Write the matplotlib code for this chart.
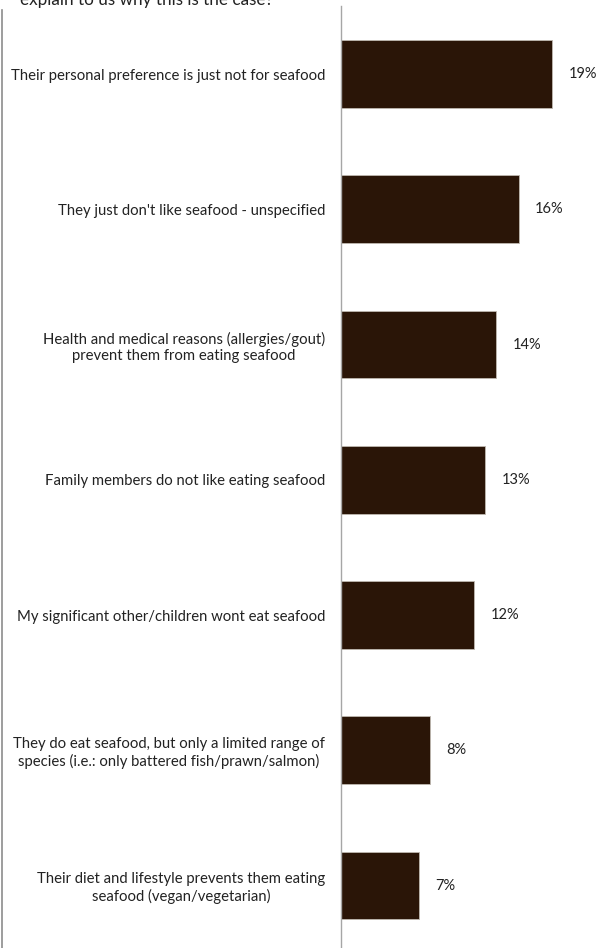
import matplotlib.pyplot as plt
import numpy as np

# reasons given, top to bottom, with share of respondents (%)
reasons = [
    "Their personal preference is just not for seafood",
    "They just don't like seafood - unspecified",
    "Health and medical reasons (allergies/gout)\nprevent them from eating seafood",
    "Family members do not like eating seafood",
    "My significant other/children wont eat seafood",
    "They do eat seafood, but only a limited range of\nspecies (i.e.: only battered fish/prawn/salmon)",
    "Their diet and lifestyle prevents them eating\nseafood (vegan/vegetarian)",
]
shares = [19, 16, 14, 13, 12, 8, 7]

plt.rcParams['font.family'] = ['Lato', 'DejaVu Sans']

W, H = 598, 948
fig = plt.figure(figsize=(W / 100, H / 100), dpi=100)

# plot area: value axis sits at x=341px, categories 135px apart
ax_left = 341 / W
ax_top = 1 - 6.4 / H
ax_h = 7 * 135.25 / H
ax = fig.add_axes([ax_left, ax_top - ax_h, 1 - ax_left, ax_h])

y = np.arange(len(reasons))
ax.barh(y, shares, height=0.5, color='#2a1507', edgecolor='#bfb8b0', linewidth=0.6)

for yi, v in zip(y, shares):
    ax.text(v + 1.5, yi, f"{v}%", va='center', ha='left', fontsize=10.5, color='#222222')

ax.set_xlim(0, 257 / 11.1)
ax.set_ylim(len(reasons) - 0.5, -0.5)
ax.set_xticks([])
ax.set_yticks(y)
ax.set_yticklabels(reasons, fontsize=10.75, color='#222222', multialignment='center',
                   linespacing=1.22)
ax.tick_params(axis='y', length=0, pad=11.5)

for s in ['top', 'right', 'bottom']:
    ax.spines[s].set_visible(False)
ax.spines['left'].set_color('#a6a6a6')
ax.spines['left'].set_linewidth(1.0)

# question text, running off the top edge
fig.text(20 / W, 1 - 5 / H, "explain to us why this is the case?", fontsize=12.3,
         color='#222222', ha='left', va='baseline')

# outer frame line on the left
fig.add_artist(plt.Line2D([1.5 / W, 1.5 / W], [0, 1 - 10 / H], color='#8c8c8c', linewidth=1.2,
                          transform=fig.transFigure))

fig.savefig('out.png', dpi=100, facecolor='white')
